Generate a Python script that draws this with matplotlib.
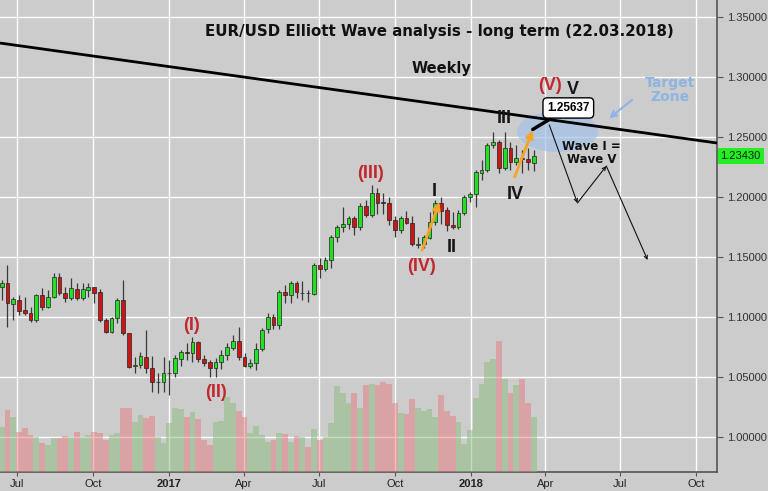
import matplotlib
matplotlib.use('Agg')
import matplotlib.pyplot as plt
import matplotlib.dates as mdates
import matplotlib.transforms as mtransforms
from matplotlib.patches import Ellipse
import numpy as np
import pandas as pd

# weekly EUR/USD candles
weeks = pd.date_range('2016-06-12', periods=93, freq='7D')

opens = [1.1250, 1.1283, 1.1108, 1.1142, 1.1058, 1.1036, 1.0975, 1.1183, 1.1086, 1.1164,
         1.1331, 1.1203, 1.1156, 1.1233, 1.1156, 1.1225, 1.1247, 1.1211, 1.0975, 1.0878,
         1.0989, 1.1142, 1.0864, 1.0594, 1.0600, 1.0669, 1.0572, 1.0458, 1.0461, 1.0531,
         1.0536, 1.0647, 1.0708, 1.0703, 1.0794, 1.0647, 1.0628, 1.0572, 1.0622, 1.0683,
         1.0739, 1.0803, 1.0664, 1.0594, 1.0614, 1.0731, 1.0900, 1.1000, 1.0933, 1.1208,
         1.1183, 1.1283, 1.1197, 1.1203, 1.1192, 1.1433, 1.1400, 1.1475, 1.1667, 1.1750,
         1.1775, 1.1825, 1.1750, 1.1925, 1.1850, 1.2033, 1.1958, 1.1950, 1.1808, 1.1725,
         1.1825, 1.1783, 1.1603, 1.1608, 1.1658, 1.1792, 1.1950, 1.1889, 1.1767, 1.1750,
         1.1867, 1.2000, 1.2025, 1.2200, 1.2225, 1.2433, 1.2458, 1.2242, 1.2408, 1.2292,
         1.2325, 1.2317, 1.2283]
highs = [1.1308, 1.1433, 1.1167, 1.1183, 1.1167, 1.1086, 1.1194, 1.1242, 1.1225, 1.1369,
         1.1367, 1.1253, 1.1322, 1.1281, 1.1281, 1.1281, 1.1253, 1.1230, 1.0989, 1.1003,
         1.1156, 1.1308, 1.0870, 1.0669, 1.0711, 1.0892, 1.0675, 1.0533, 1.0669, 1.0642,
         1.0683, 1.0725, 1.0783, 1.0833, 1.0800, 1.0686, 1.0642, 1.0656, 1.0728, 1.0786,
         1.0850, 1.0919, 1.0700, 1.0650, 1.0783, 1.0911, 1.1033, 1.1025, 1.1225, 1.1267,
         1.1297, 1.1297, 1.1297, 1.1225, 1.1447, 1.1492, 1.1503, 1.1683, 1.1767, 1.1917,
         1.1839, 1.1839, 1.1950, 1.1978, 1.2100, 1.2072, 1.2031, 1.2003, 1.1839, 1.1839,
         1.1881, 1.1839, 1.1669, 1.1683, 1.1875, 1.1978, 1.1997, 1.1914, 1.1875, 1.1889,
         1.2014, 1.2042, 1.2225, 1.2308, 1.2450, 1.2542, 1.2475, 1.2542, 1.2458, 1.2433,
         1.2392, 1.2408, 1.2389]
lows = [1.1142, 1.0917, 1.0975, 1.1017, 1.1017, 1.0961, 1.0961, 1.1058, 1.1072, 1.1158,
        1.1183, 1.1128, 1.1142, 1.1142, 1.1142, 1.1169, 1.1114, 1.0961, 1.0864, 1.0864,
        1.0950, 1.0850, 1.0572, 1.0531, 1.0572, 1.0531, 1.0378, 1.0367, 1.0378, 1.0350,
        1.0500, 1.0589, 1.0642, 1.0625, 1.0625, 1.0589, 1.0503, 1.0503, 1.0569, 1.0644,
        1.0725, 1.0642, 1.0586, 1.0578, 1.0558, 1.0717, 1.0867, 1.0903, 1.0903, 1.1117,
        1.1117, 1.1158, 1.1142, 1.1125, 1.1186, 1.1325, 1.1383, 1.1408, 1.1625, 1.1708,
        1.1736, 1.1683, 1.1722, 1.1833, 1.1833, 1.1861, 1.1861, 1.1767, 1.1669, 1.1700,
        1.1772, 1.1594, 1.1575, 1.1575, 1.1653, 1.1767, 1.1775, 1.1719, 1.1733, 1.1736,
        1.1847, 1.1958, 1.1917, 1.2142, 1.2208, 1.2408, 1.2200, 1.2225, 1.2225, 1.2267,
        1.2200, 1.2225, 1.2217]
closes = [1.1283, 1.1114, 1.1150, 1.1050, 1.1031, 1.0975, 1.1183, 1.1086, 1.1167, 1.1331,
          1.1197, 1.1156, 1.1239, 1.1161, 1.1231, 1.1247, 1.1203, 1.0975, 1.0878, 1.0989,
          1.1142, 1.0864, 1.0586, 1.0603, 1.0675, 1.0572, 1.0461, 1.0461, 1.0531, 1.0536,
          1.0656, 1.0711, 1.0703, 1.0794, 1.0647, 1.0619, 1.0572, 1.0628, 1.0683, 1.0747,
          1.0803, 1.0664, 1.0594, 1.0619, 1.0731, 1.0892, 1.1000, 1.0933, 1.1208, 1.1183,
          1.1283, 1.1208, 1.1203, 1.1197, 1.1433, 1.1400, 1.1475, 1.1667, 1.1750, 1.1775,
          1.1825, 1.1750, 1.1925, 1.1850, 1.2033, 1.1950, 1.1950, 1.1808, 1.1725, 1.1825,
          1.1783, 1.1608, 1.1608, 1.1667, 1.1792, 1.1950, 1.1886, 1.1767, 1.1750, 1.1867,
          1.2000, 1.2025, 1.2208, 1.2225, 1.2433, 1.2458, 1.2242, 1.2408, 1.2292, 1.2325,
          1.2317, 1.2292, 1.2343]
volumes = [45, 62, 55, 40, 44, 37, 35, 29, 27, 34, 34, 36, 35, 40, 35, 37, 40, 39, 32, 37,
           39, 64, 64, 50, 57, 54, 56, 35, 29, 49, 64, 63, 55, 60, 53, 32, 27, 50, 51, 75,
           69, 61, 55, 39, 46, 37, 30, 32, 39, 38, 30, 36, 35, 25, 43, 32, 35, 49, 86, 79,
           69, 79, 64, 87, 88, 87, 90, 88, 69, 59, 58, 73, 64, 61, 63, 55, 77, 61, 56, 50,
           28, 42, 74, 88, 110, 113, 131, 93, 79, 87, 93, 69, 55]

last_price = 1.23430
target_price = 1.25637

# resistance trend line
trend_dates = ['2016-06-10', '2018-10-26']
trend_prices = [1.3283, 1.2450]

# projected path after the target
path_dates = ['2018-04-06', '2018-05-10', '2018-06-14', '2018-08-03']
path_prices = [1.2600, 1.1950, 1.2258, 1.1475]

# orange impulse arrows (start, end)
orange_arrows = [(('2017-11-03', 1.1558), ('2017-11-24', 1.1958)),
                 (('2018-02-23', 1.2167), ('2018-03-17', 1.2558))]

# wave labels
red_labels = ['(I)', '(II)', '(III)', '(IV)', '(V)']
red_dates = ['2017-01-28', '2017-02-26', '2017-09-01', '2017-11-02', '2018-04-07']
red_prices = [1.0925, 1.0367, 1.2192, 1.1417, 1.2933]
black_labels = ['I', 'II', 'III', 'IV', 'V']
black_dates = ['2017-11-18', '2017-12-09', '2018-02-11', '2018-02-24', '2018-05-05']
black_prices = [1.2050, 1.1583, 1.2658, 1.2017, 1.2892]

tick_dates = ['2016-07-01', '2016-10-01', '2017-01-01', '2017-04-01', '2017-07-01',
              '2017-10-01', '2018-01-01', '2018-04-01', '2018-07-01', '2018-10-01']
tick_labels = ['Jul', 'Oct', '2017', 'Apr', 'Jul', 'Oct', '2018', 'Apr', 'Jul', 'Oct']

d = lambda s: mdates.date2num(pd.Timestamp(s))

bg = '#cccccc'
fig = plt.figure(figsize=(7.68, 4.91), dpi=100, facecolor=bg)
rect = [0, 19 / 491, 717 / 768, 472 / 491]
ax = fig.add_axes(rect, facecolor=bg)
axv = fig.add_axes(rect, sharex=ax)
axv.patch.set_visible(False)
axv.axis('off')

x = mdates.date2num(weeks)
o = np.array(opens)
c = np.array(closes)
up = c >= o

# volume
vcol = np.where(up, '#8abc7c', '#e67c80')
axv.bar(x, volumes, width=7, color=vcol, alpha=0.5, linewidth=0, zorder=1)
axv.set_ylim(0, 472)

# candles
ax.vlines(x, lows, highs, color='#3a3a3a', lw=0.9, zorder=3)
body_col = np.where(up, '#22e022', '#cc1515')
ax.bar(x, np.where(np.abs(c - o) < 0.0004, 0.0004, c - o), bottom=o, width=4.6,
       color=body_col, edgecolor='#222222', linewidth=0.5, zorder=4)

ax.set_xlim(d('2016-06-10'), d('2018-10-26'))
ax.set_ylim(0.97083, 1.36417)

# trend line
ax.plot([d(s) for s in trend_dates], trend_prices, color='black', lw=2, zorder=5,
        solid_capstyle='butt')

# target zone
ax.add_patch(Ellipse((d('2018-04-16'), 1.2545), width=98, height=0.034,
                     facecolor='#a3c3e8', alpha=0.7, edgecolor='none', zorder=2))

# projected path
px = [d(s) for s in path_dates]
for i in range(len(px) - 1):
    ax.annotate('', xy=(px[i + 1], path_prices[i + 1]), xytext=(px[i], path_prices[i]),
                arrowprops=dict(arrowstyle='->', color='#111111', lw=0.8,
                                mutation_scale=6, shrinkA=0, shrinkB=0), zorder=6)

for (s0, p0), (s1, p1) in orange_arrows:
    ax.annotate('', xy=(d(s1), p1), xytext=(d(s0), p0),
                arrowprops=dict(arrowstyle='-|>', color='#f5a428', lw=2,
                                mutation_scale=11, shrinkA=0, shrinkB=0), zorder=7)

ax.annotate(f'{target_price:.5f}', xy=(d('2018-03-17'), 1.2563),
            xytext=(d('2018-04-29'), 1.2742), ha='center', va='center',
            fontsize=8.5, fontweight='bold', family='Liberation Sans',
            bbox=dict(boxstyle='round,pad=0.35', fc='white', ec='black', lw=1),
            arrowprops=dict(arrowstyle='-', color='black', lw=2.5, shrinkA=0, shrinkB=0),
            zorder=8)

# texts
ax.text(d('2017-11-24'), 1.3383, 'EUR/USD Elliott Wave analysis - long term (22.03.2018)',
        ha='center', va='center', fontsize=10.8, fontweight='bold', color='#111111', zorder=9)
ax.text(d('2017-11-26'), 1.3067, 'Weekly', ha='center', va='center', fontsize=10.5,
        fontweight='bold', color='#111111', zorder=9)
ax.text(d('2018-08-30'), 1.2892, 'Target\nZone', ha='center', va='center', fontsize=10,
        fontweight='bold', color='#8db4e2', linespacing=0.95, zorder=9)
ax.annotate('', xy=(d('2018-06-15'), 1.2642), xytext=(d('2018-07-18'), 1.2825),
            arrowprops=dict(arrowstyle='->', color='#8db4e2', lw=1.5, mutation_scale=10),
            zorder=9)
ax.text(d('2018-05-27'), 1.2367, 'Wave I =\nWave V', ha='center', va='center', fontsize=8.5,
        fontweight='bold', color='#111111', linespacing=0.95, zorder=9)

for t, s, p in zip(red_labels, red_dates, red_prices):
    ax.text(d(s), p, t, ha='center', va='center', fontsize=13, fontweight='bold',
            family='Liberation Sans', color='#c1272d', zorder=9)
for t, s, p in zip(black_labels, black_dates, black_prices):
    ax.text(d(s), p, t, ha='center', va='center', fontsize=13, fontweight='bold',
            family='Liberation Sans', color='#161616', zorder=9)

# axes styling
ax.set_xticks([d(s) for s in tick_dates])
ax.set_xticklabels(tick_labels, fontsize=8, family='Liberation Sans', color='#222222')
for lab in ax.get_xticklabels():
    if lab.get_text().isdigit():
        lab.set_fontweight('bold')
ax.yaxis.tick_right()
ax.set_yticks(np.arange(1.0, 1.351, 0.05))
ax.yaxis.set_major_formatter(matplotlib.ticker.FormatStrFormatter('%.5f'))
for lab in ax.get_yticklabels():
    lab.set_fontsize(8)
    lab.set_family('Liberation Sans')
    lab.set_color('#333333')
ax.tick_params(axis='y', length=4, width=0.8, color='#555555', pad=3)
ax.tick_params(axis='x', length=3, width=0.8, color='#555555', pad=2)
ax.grid(True, color='white', lw=1, zorder=0)
ax.set_axisbelow(True)
for side in ['top', 'left']:
    ax.spines[side].set_visible(False)
for side in ['right', 'bottom']:
    ax.spines[side].set_color('#555555')
    ax.spines[side].set_linewidth(1.2)

# last price tag
tr = mtransforms.blended_transform_factory(ax.transAxes, ax.transData)
ax.text(1.005, last_price, f'{last_price:.5f}', transform=tr, ha='left', va='center',
        fontsize=8, family='Liberation Sans', color='#1a1a1a', clip_on=False,
        bbox=dict(boxstyle='square,pad=0.25', fc='#22ee22', ec='none'), zorder=10)

fig.savefig('out.png', dpi=100, facecolor=bg)
